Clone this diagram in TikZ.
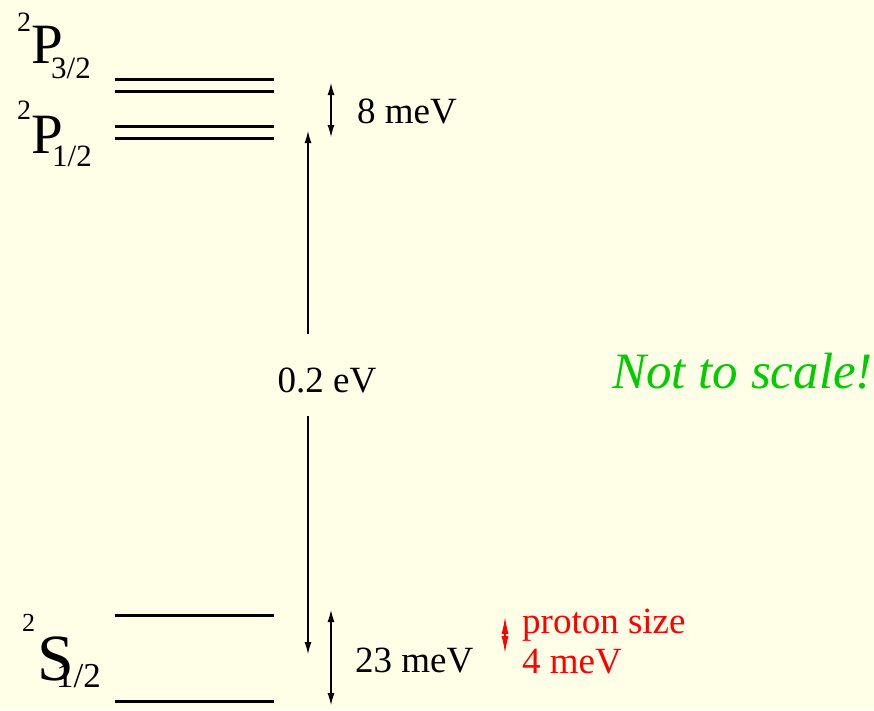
\documentclass[tikz,border=0pt]{standalone}
\usepackage{fontspec}
\setmainfont{Liberation Serif}
\usepackage{tikz}
\usetikzlibrary{arrows.meta, positioning}
\definecolor{bgyellow}{RGB}{255,255,232}
\definecolor{scalegreen}{RGB}{0,204,0}
\newcommand{\fs}[1]{\fontsize{#1}{#1}\selectfont}
\tikzset{
    level/.style={line width=3pt},
    term/.style={anchor=base west, inner sep=0pt},
    gap/.style={line width=1.1pt, {Latex[length=12pt,width=7pt]}-{Latex[length=12pt,width=7pt]}},
    onearrow/.style={line width=1.1pt, -{Latex[length=12pt,width=7pt]}},
    meV/.style={anchor=base west, inner sep=0pt, font=\fs{37}},
}

\begin{document}
\begin{tikzpicture}[x=1pt, y=-1pt]
    \fill[bgyellow] (0,0) rectangle (874,710);
    \useasboundingbox (0,0) rectangle (874,710);
    % energy levels
    \foreach \y in {79,91,126,138,615,701}
        \draw[level] (115,\y) -- (274,\y);
    % term labels
    \node[term, font=\fs{28}] (p32sup) at (17,31) {2};
    \node[term, font=\fs{57}] (p32) at (31,63) {P};
    \node[term, font=\fs{31}] (p32sub) at (51,78) {3/2};
    \node[term, font=\fs{28}] (p12sup) at (17,119) {2};
    \node[term, font=\fs{57}] (p12) at (31,153) {P};
    \node[term, font=\fs{31}] (p12sub) at (52,166) {1/2};
    \node[term, font=\fs{26}] (s12sup) at (22,631) {2};
    \node[term, font=\fs{66}] (s12) at (37,680) {S};
    \node[term, font=\fs{35}] (s12sub) at (56,687) {1/2};
    % fine structure
    \coordinate (fstop) at (331,83);
    \coordinate (fsbot) at (331,137);
    \draw[gap] (fstop) -- (fsbot);
    \node[meV] (fslabel) at (357,123) {8 meV};
    % Lamb shift
    \node[meV, anchor=base] (lamblabel) at (327,392) {0.2 eV};
    \coordinate (lambtop) at (308,131);
    \coordinate (lambbot) at (308,654);
    \draw[onearrow] (lamblabel.north -| lambtop) ++(0,-33) -- (lambtop);
    \draw[onearrow] (lamblabel.south -| lambbot) ++(0,23) -- (lambbot);
    % hyperfine splitting
    \coordinate (hfstop) at (331,610);
    \coordinate (hfsbot) at (331,705);
    \draw[gap] (hfstop) -- (hfsbot);
    \node[meV] (hfslabel) at (355,672) {23 meV};
    % proton size
    \coordinate (pstop) at (505,617);
    \coordinate (psbot) at (505,653);
    \draw[red, line width=1.1pt, {Latex[length=17pt,width=7pt]}-{Latex[length=17pt,width=7pt]}] (pstop) -- (psbot);
    \node[term, red, font=\fs{37}] (psize) at (522,633) {proton size};
    \node[term, red, font=\fs{37}] (psval) at (522,673) {4 meV};
    % note
    \node[term, scalegreen, font=\fs{51}\itshape] (note) at (612,388) {Not to scale!};
\end{tikzpicture}
\end{document}
